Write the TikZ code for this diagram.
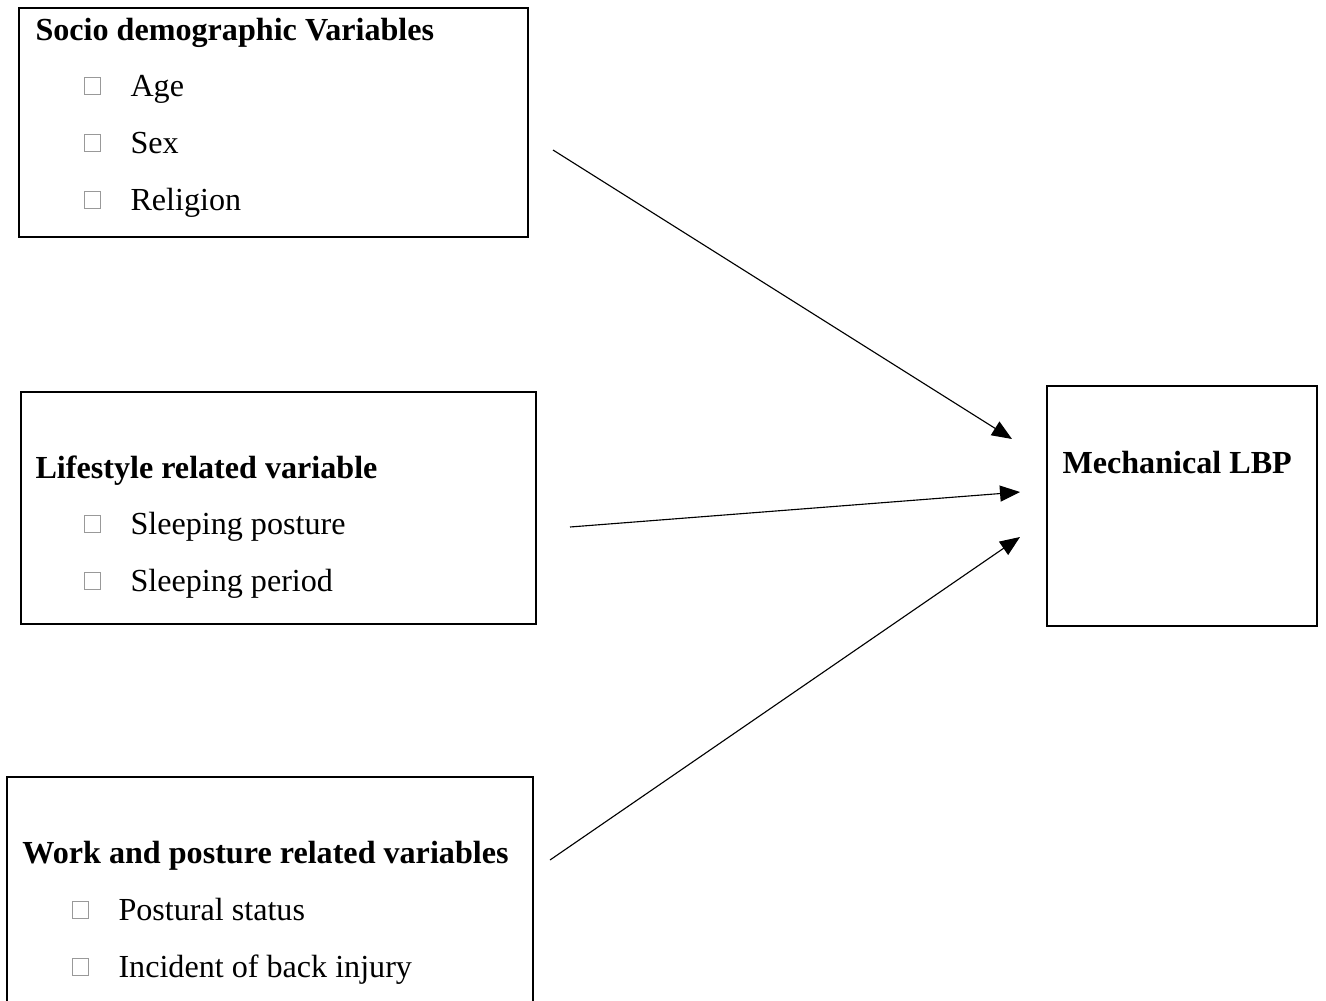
\documentclass[tikz,border=0pt]{standalone}
\usepackage{fontspec}
\setmainfont{Liberation Serif}
\usetikzlibrary{arrows.meta}
\tikzset{
  px/.style={x=0.4pt,y=-0.4pt},
  frame/.style={draw=black,line width=0.85pt},
  title/.style={anchor=base west,inner sep=0pt,font=\fontsize{12.85pt}{15pt}\selectfont\bfseries},
  item/.style={anchor=base west,inner sep=0pt,font=\fontsize{12.85pt}{15pt}\selectfont},
  tofu/.style={draw=gray!80,line width=0.35pt,minimum width=6.4pt,minimum height=6.8pt,inner sep=0pt},
  link/.style={line width=0.45pt,-{Triangle[length=8pt,width=6.4pt]}}
}
\begin{document}
\begin{tikzpicture}[px]
\useasboundingbox (0,0) rectangle (1326,1000);
\clip (0,0) rectangle (1326,1000);
% boxes
\draw[frame] (19,8) rectangle (528,237);
\draw[frame] (21,392) rectangle (536,624);
\draw[frame] (7,777) rectangle (533,1020);
\draw[frame] (1047,386) rectangle (1317,626);
% box 1
\node[title] (t1) at (35,40) {Socio demographic Variables};
\node[tofu] (b11) at (92,86) {};
\node[item] (i11) at (130,96) {Age};
\node[tofu] (b12) at (92,143) {};
\node[item] (i12) at (130,153) {Sex};
\node[tofu] (b13) at (92,200) {};
\node[item] (i13) at (130,210) {Religion};
% box 2
\node[title] (t2) at (35,478) {Lifestyle related variable};
\node[tofu] (b21) at (92,524) {};
\node[item] (i21) at (130,534) {Sleeping posture};
\node[tofu] (b22) at (92,581) {};
\node[item] (i22) at (130,591) {Sleeping period};
% box 3
\node[title] (t3) at (22,863) {Work and posture related variables};
\node[tofu] (b31) at (80,910) {};
\node[item] (i31) at (118,920) {Postural status};
\node[tofu] (b32) at (80,967) {};
\node[item] (i32) at (118,977) {Incident of back injury};
% box 4
\node[title] (t4) at (1062,473) {Mechanical LBP};
% arrows
\coordinate (s1) at (553,150);
\coordinate (e1) at (1012,439);
\coordinate (s2) at (570,527);
\coordinate (e2) at (1020,492);
\coordinate (s3) at (550,860);
\coordinate (e3) at (1020,537);
\draw[link] (s1) -- (e1);
\draw[link] (s2) -- (e2);
\draw[link] (s3) -- (e3);
\end{tikzpicture}
\end{document}
